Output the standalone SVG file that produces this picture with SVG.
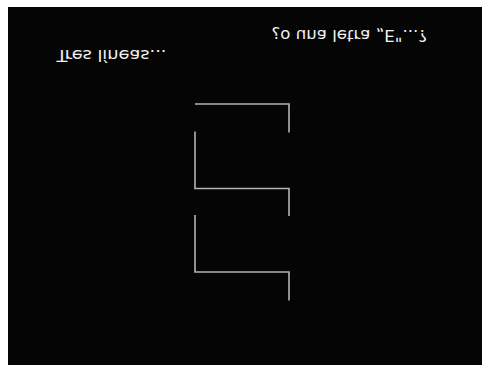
<svg xmlns="http://www.w3.org/2000/svg" width="482" height="365" viewBox="0 0 482 365">
<style>
.t{font-family:"DejaVu Sans",sans-serif;font-size:15.5px;fill:#f2f2f2}
.ln{fill:none;stroke:#b4b4b4;stroke-width:1.6}
</style>
<rect x="0" y="0" width="482" height="365" fill="#ffffff"/>
<rect x="8" y="7" width="474" height="358" fill="#050505"/>
<g id="label1"><text class="t" x="56.5" y="50" textLength="110" lengthAdjust="spacingAndGlyphs" transform="matrix(1,0,0,-1,0,100)">Tres líneas...</text></g>
<g id="label2"><text class="t" x="271.5" y="29.5" textLength="155.5" lengthAdjust="spacingAndGlyphs" transform="matrix(1,0,0,-1,0,59)">¿o una letra „E"...?</text></g>
<g id="connectors">
<polyline class="ln" points="195,104 289,104 289,132.5"/>
<polyline class="ln" points="195,131.5 195,188.5 289,188.5 289,216"/>
<polyline class="ln" points="195,215 195,272 289,272 289,300.5"/>
</g>
</svg>
